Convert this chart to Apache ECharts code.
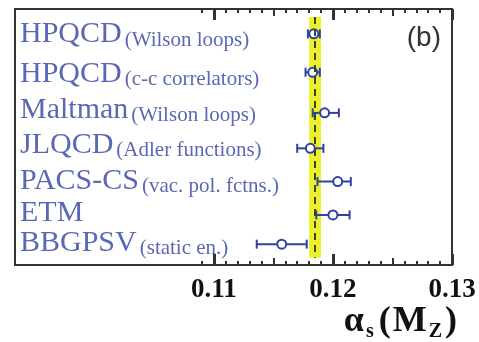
<!DOCTYPE html>
<html>
<head>
<meta charset="utf-8">
<script src="https://cdn.jsdelivr.net/npm/echarts@6/dist/echarts.min.js"></script>
<style>
  html, body { margin: 0; padding: 0; background: #fff; }
  #chart { width: 479px; height: 342px; }
</style>
</head>
<body>
<div id="chart"></div>
<script>
// groups (big name + small method text)
var groups = ['HPQCD', 'HPQCD', 'Maltman', 'JLQCD', 'PACS-CS', 'ETM', 'BBGPSV'];
var methods = ['(Wilson loops)', '(c-c correlators)', '(Wilson loops)', '(Adler functions)',
               '(vac. pol. fctns.)', '', '(static en.)'];
// alpha_s values and error ranges
var values = [0.1184, 0.1183, 0.1193, 0.1181, 0.1204, 0.1200, 0.1157];
var lows   = [0.1179, 0.1177, 0.1183, 0.1170, 0.1187, 0.1186, 0.1136];
var highs  = [0.1189, 0.1189, 0.1205, 0.1192, 0.1215, 0.1214, 0.1178];
// vertical row position of each entry (0 = top of frame, 7 = bottom)
var rows      = [0.68, 1.73, 2.84, 3.81, 4.72, 5.63, 6.43];
var labelRows = [0.70, 1.78, 2.76, 3.72, 4.70, 5.58, 6.40];
// lattice average band
var average = 0.1185;
var avgLow = 0.1180, avgHigh = 0.1190;
// axis ticks
var majorTicks = [0.11, 0.12, 0.13];
var mediumTicks = [0.115, 0.125];
var minorTicks = [];
for (var t = 109; t <= 130; t++) minorTicks.push(t / 1000);

var xMin = 0.0933, xMax = 0.13;
var blue = '#2f42a3';
var frame = '#333';

var chart = echarts.init(document.getElementById('chart'));

function tickAxis(pos, ticks, len, width, labels) {
  return {
    type: 'value', position: pos, min: xMin, max: xMax,
    axisLine: { show: false, onZero: false },
    splitLine: { show: false },
    axisTick: { show: true, inside: true, length: len, customValues: ticks,
                lineStyle: { color: frame, width: width } },
    axisLabel: labels ? {
      show: true, customValues: labels, margin: 12,
      fontFamily: 'Liberation Serif', fontWeight: 'bold', fontSize: 27, color: '#111',
      formatter: function (v) { return v.toFixed(2); }
    } : { show: false }
  };
}

var serifBold = { fontFamily: 'Liberation Serif', fontWeight: 'bold', color: '#111' };

var option = {
  animation: false,
  grid: { left: 15, top: 9, right: 27, bottom: 77, show: true,
          borderColor: frame, borderWidth: 2, backgroundColor: '#fff' },
  title: [{
    text: '(b)', right: 33, top: 19,
    textStyle: { fontFamily: 'Liberation Sans', fontWeight: 'normal', fontSize: 28, color: '#333' }
  }, {
    text: '{a|α}{s|s}{p|(}{a|M}{z|Z}{a|)}', right: 22, top: 302, padding: 0,
    textStyle: {
      rich: {
        a: Object.assign({ fontSize: 36, lineHeight: 40 }, serifBold),
        p: Object.assign({ fontSize: 36, lineHeight: 40, padding: [0, 2, 0, 4] }, serifBold),
        s: Object.assign({ fontSize: 20, lineHeight: 16, verticalAlign: 'bottom',
                           padding: [0, 1, 0, 2] }, serifBold),
        z: Object.assign({ fontSize: 20, lineHeight: 16, verticalAlign: 'bottom',
                           padding: [0, 3, 0, 2] }, serifBold)
      }
    }
  }],
  xAxis: [
    tickAxis('bottom', majorTicks, 11, 3, majorTicks),
    tickAxis('bottom', mediumTicks, 7, 2),
    tickAxis('bottom', minorTicks, 4, 2),
    tickAxis('top', majorTicks, 11, 3),
    tickAxis('top', mediumTicks, 7, 2),
    tickAxis('top', minorTicks, 4, 2)
  ],
  yAxis: { type: 'value', min: 0, max: 7, inverse: true, show: false },
  series: [{
    // yellow average band with dashed central line
    type: 'line', data: [], z: 1,
    markArea: {
      silent: true,
      itemStyle: { color: '#eef02a' },
      data: [[{ coord: [avgLow, 0.22] }, { coord: [avgHigh, 6.8] }]]
    },
    markLine: {
      silent: true, symbol: 'none',
      label: { show: false },
      lineStyle: { color: '#2f4a22', width: 2, type: [7, 5] },
      data: [[{ coord: [average, 0.22] }, { coord: [average, 6.8] }]]
    }
  }, {
    // error bars
    type: 'custom', z: 3,
    data: values.map(function (v, i) { return [rows[i], lows[i], highs[i]]; }),
    renderItem: function (params, api) {
      var a = api.coord([api.value(1), api.value(0)]);
      var b = api.coord([api.value(2), api.value(0)]);
      var h = 4.5;
      var st = { stroke: blue, lineWidth: 2, fill: null };
      return { type: 'group', children: [
        { type: 'line', shape: { x1: a[0], y1: a[1], x2: b[0], y2: b[1] }, style: st },
        { type: 'line', shape: { x1: a[0], y1: a[1] - h, x2: a[0], y2: a[1] + h }, style: st },
        { type: 'line', shape: { x1: b[0], y1: b[1] - h, x2: b[0], y2: b[1] + h }, style: st }
      ]};
    }
  }, {
    // central values
    type: 'scatter', z: 4,
    symbol: 'circle', symbolSize: 9,
    itemStyle: { color: '#fff', borderColor: blue, borderWidth: 2, opacity: 1 },
    data: values.map(function (v, i) { return [v, rows[i]]; })
  }, {
    // row labels
    type: 'scatter', z: 5, symbolSize: 0, clip: false, silent: true,
    data: groups.map(function (g, i) { return [xMin, labelRows[i]]; }),
    label: {
      show: true, position: 'right', distance: 5,
      formatter: function (p) {
        var m = methods[p.dataIndex];
        return '{a|' + groups[p.dataIndex] + '}' + (m ? '{b|' + m + '}' : '');
      },
      rich: {
        a: { fontFamily: 'Liberation Serif', fontSize: 30, color: blue, lineHeight: 32 },
        b: { fontFamily: 'Liberation Serif', fontSize: 21, color: blue, lineHeight: 26,
             verticalAlign: 'bottom', padding: [0, 0, 0, 3] }
      }
    }
  }]
};

chart.setOption(option);
</script>
</body>
</html>
